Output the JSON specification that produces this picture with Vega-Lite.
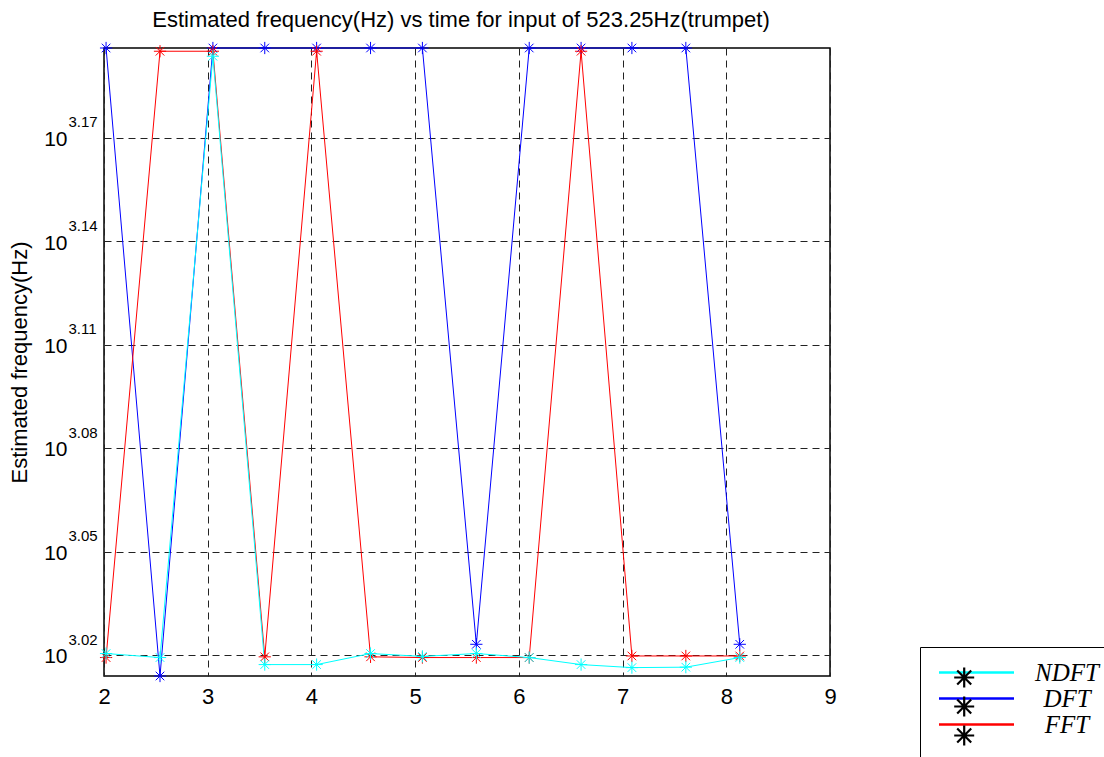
{
  "$schema": "https://vega.github.io/schema/vega-lite/v6.json",
  "width": 726,
  "height": 628,
  "autosize": "none",
  "padding": {"left": 104, "top": 48, "right": 274, "bottom": 81},
  "background": "white",
  "config": {
    "font": "Liberation Sans",
    "view": {"stroke": "black", "strokeWidth": 1.5}
  },
  "title": {
    "text": "Estimated frequency(Hz) vs time for input of 523.25Hz(trumpet)",
    "font": "Liberation Sans",
    "fontSize": 22,
    "fontWeight": "normal",
    "color": "black",
    "anchor": "middle",
    "frame": "group",
    "baseline": "alphabetic",
    "offset": 20,
    "dx": -6,
    "dy": 29
  },
  "data": {
    "values": [
      {"t": 2.02, "f": 1570.6, "series": "DFT"},
      {"t": 2.54, "f": 1032.7, "series": "DFT"},
      {"t": 3.05, "f": 1570.6, "series": "DFT"},
      {"t": 3.55, "f": 1570.6, "series": "DFT"},
      {"t": 4.05, "f": 1570.6, "series": "DFT"},
      {"t": 4.57, "f": 1570.6, "series": "DFT"},
      {"t": 5.07, "f": 1570.6, "series": "DFT"},
      {"t": 5.59, "f": 1054.8, "series": "DFT"},
      {"t": 6.10, "f": 1570.6, "series": "DFT"},
      {"t": 6.60, "f": 1570.6, "series": "DFT"},
      {"t": 7.09, "f": 1570.6, "series": "DFT"},
      {"t": 7.61, "f": 1570.6, "series": "DFT"},
      {"t": 8.13, "f": 1054.8, "series": "DFT"},
      {"t": 2.02, "f": 1045.5, "series": "FFT"},
      {"t": 2.54, "f": 1567.2, "series": "FFT"},
      {"t": 3.05, "f": 1567.2, "series": "FFT"},
      {"t": 3.55, "f": 1046.0, "series": "FFT"},
      {"t": 4.05, "f": 1567.2, "series": "FFT"},
      {"t": 4.57, "f": 1046.0, "series": "FFT"},
      {"t": 5.07, "f": 1045.5, "series": "FFT"},
      {"t": 5.59, "f": 1045.5, "series": "FFT"},
      {"t": 6.10, "f": 1045.5, "series": "FFT"},
      {"t": 6.60, "f": 1567.2, "series": "FFT"},
      {"t": 7.09, "f": 1046.6, "series": "FFT"},
      {"t": 7.61, "f": 1046.6, "series": "FFT"},
      {"t": 8.13, "f": 1046.6, "series": "FFT"},
      {"t": 2.02, "f": 1048.3, "series": "NDFT"},
      {"t": 2.54, "f": 1045.5, "series": "NDFT"},
      {"t": 3.05, "f": 1562.0, "series": "NDFT"},
      {"t": 3.55, "f": 1040.6, "series": "NDFT"},
      {"t": 4.05, "f": 1040.6, "series": "NDFT"},
      {"t": 4.57, "f": 1048.3, "series": "NDFT"},
      {"t": 5.07, "f": 1046.3, "series": "NDFT"},
      {"t": 5.59, "f": 1048.3, "series": "NDFT"},
      {"t": 6.10, "f": 1045.5, "series": "NDFT"},
      {"t": 6.60, "f": 1040.6, "series": "NDFT"},
      {"t": 7.09, "f": 1038.5, "series": "NDFT"},
      {"t": 7.61, "f": 1038.8, "series": "NDFT"},
      {"t": 8.13, "f": 1045.5, "series": "NDFT"}
    ]
  },
  "layer": [
    {
      "mark": {"type": "line", "strokeWidth": 1},
      "encoding": {
        "x": {
          "field": "t",
          "type": "quantitative",
          "scale": {"domain": [2, 9], "nice": false, "zero": false},
          "axis": {
            "title": null,
            "values": [2, 3, 4, 5, 6, 7, 8, 9],
            "format": "d",
            "labelFont": "Liberation Sans",
            "labelFontSize": 22,
            "labelColor": "black",
            "labelBaseline": "alphabetic",
            "labelPadding": 27,
            "labelFlush": false,
            "labelOverlap": false,
            "ticks": false,
            "domain": false,
            "grid": true,
            "gridColor": "#222222",
            "gridDash": [7, 5],
            "gridWidth": 1
          }
        },
        "y": {
          "field": "f",
          "type": "quantitative",
          "scale": {"type": "log", "domain": [1032.7, 1570.6], "nice": false, "zero": false},
          "axis": {
            "orient": "left",
            "values": [1047.1285, 1122.0185, 1202.2644, 1288.2496, 1380.3843, 1479.1084],
            "labelExpr": "'10'",
            "labelFont": "Liberation Sans",
            "labelFontSize": 21,
            "labelColor": "black",
            "labelAlign": "right",
            "labelBaseline": "alphabetic",
            "labelOffset": 7.7,
            "labelPadding": 37,
            "labelOverlap": false,
            "ticks": false,
            "domain": false,
            "grid": true,
            "gridColor": "#222222",
            "gridDash": [7, 5],
            "gridWidth": 1,
            "title": "Estimated frequency(Hz)",
            "titleFont": "Liberation Sans",
            "titleFontSize": 22,
            "titleFontWeight": "normal",
            "titleColor": "black",
            "titleAngle": -90,
            "titleAlign": "center",
            "titleBaseline": "alphabetic",
            "titleX": -78,
            "titleY": 314
          }
        },
        "color": {
          "field": "series",
          "type": "nominal",
          "scale": {"domain": ["NDFT", "DFT", "FFT"], "range": ["#00FFFF", "#0000FF", "#FF0000"]},
          "legend": {
            "orient": "none",
            "legendX": 816,
            "legendY": 599,
            "title": " ",
            "titleOrient": "bottom",
            "titleFontSize": 20,
            "titlePadding": 10,
            "symbolType": "M-5,0H5",
            "symbolSize": 225,
            "symbolStrokeWidth": 2.5,
            "symbolOffset": 31,
            "labelFont": "Liberation Serif",
            "labelFontStyle": "italic",
            "labelFontSize": 25,
            "labelColor": "black",
            "labelAlign": "center",
            "labelOffset": 78,
            "labelLimit": 300,
            "rowPadding": 0,
            "padding": 13,
            "strokeColor": "black",
            "fillColor": "white",
            "encode": {
              "symbols": {
                "update": {
                  "stroke": {"signal": "datum.value === 'DFT' ? '#000080' : scale('color', datum.value)"}
                }
              }
            }
          }
        }
      }
    },
    {
      "mark": {"type": "point", "filled": false, "strokeWidth": 1, "size": 150, "opacity": 1},
      "encoding": {
        "x": {"field": "t", "type": "quantitative"},
        "y": {
          "field": "f",
          "type": "quantitative",
          "axis": {
            "orient": "left",
            "values": [1047.1285, 1122.0185, 1202.2644, 1288.2496, 1380.3843, 1479.1084],
            "labelExpr": "format(log(datum.value) / LN10, '.2f')",
            "labelFont": "Liberation Sans",
            "labelFontSize": 15,
            "labelColor": "black",
            "labelAlign": "left",
            "labelBaseline": "alphabetic",
            "labelOffset": -11,
            "labelPadding": 36,
            "labelOverlap": false,
            "ticks": false,
            "domain": false,
            "grid": false,
            "title": null
          }
        },
        "color": {"field": "series", "type": "nominal", "legend": null},
        "shape": {
          "field": "series",
          "type": "nominal",
          "sort": ["NDFT", "DFT", "FFT"],
          "scale": {
            "range": [
              "M-1,0H1M0,-1V1M-0.7,-0.7L0.7,0.7M-0.7,0.7L0.7,-0.7",
              "M-1,0H1M0,-1V1M-0.7,-0.7L0.7,0.7M-0.7,0.7L0.7,-0.7",
              "M-1,0H1M0,-1V1M-0.7,-0.7L0.7,0.7M-0.7,0.7L0.7,-0.7"
            ]
          },
          "legend": {
            "orient": "none",
            "legendX": 835.7,
            "legendY": 605,
            "title": null,
            "symbolType": "M0,-1V1M-0.87,-0.5L0.87,0.5M-0.87,0.5L0.87,-0.5",
            "symbolSize": 400,
            "symbolStrokeColor": "black",
            "symbolFillColor": "black",
            "symbolStrokeWidth": 2.2,
            "symbolOpacity": 1,
            "labelFontSize": 12,
            "labelOpacity": 0,
            "rowPadding": 0,
            "padding": 13
          }
        }
      }
    }
  ],
  "resolve": {"axis": {"y": "independent"}}
}
